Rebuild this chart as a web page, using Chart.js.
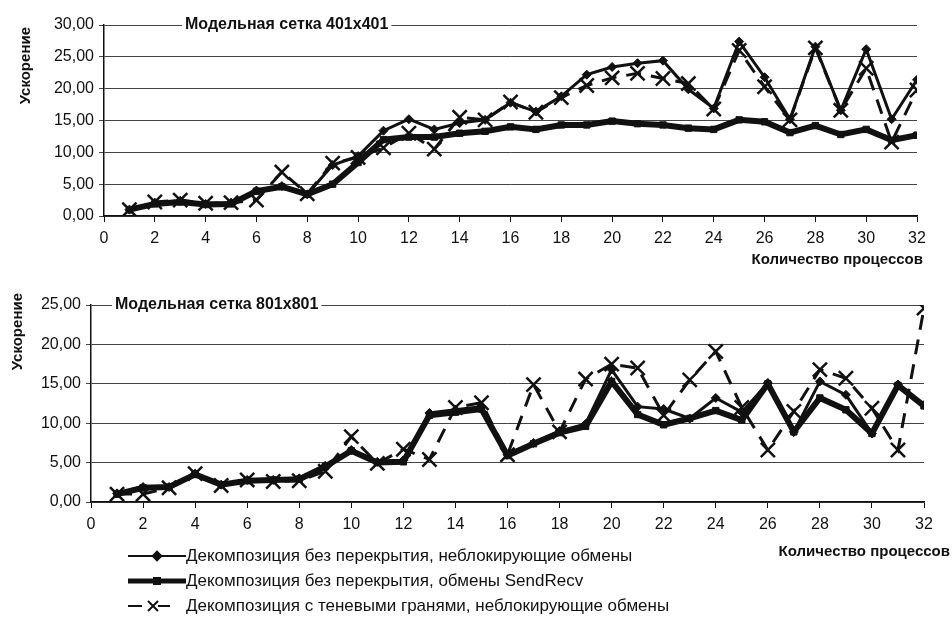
<!DOCTYPE html>
<html>
<head>
<meta charset="utf-8">
<script src="https://cdn.jsdelivr.net/npm/chart.js@4.4.0/dist/chart.umd.min.js"></script>
<style>
  body { margin: 0; background: #fff; width: 952px; height: 625px; position: relative; overflow: hidden;
         font-family: "Liberation Sans", Arial, sans-serif; color: #111; }
  #topBox { position: absolute; left: 0; top: 0; width: 952px; height: 280px; }
  #botBox { position: absolute; left: 0; top: 280px; width: 952px; height: 345px; }
  #legend { position: absolute; left: 128px; top: 543px; font-size: 17px; }
  .row { height: 25px; display: flex; align-items: center; }
  .row svg { width: 58px; height: 20px; }
</style>
</head>
<body>
<div id="topBox"><canvas id="top"></canvas></div>
<div id="botBox"><canvas id="bottom"></canvas></div>
<div id="legend"></div>
<script>
// Количество процессов
const processes = [1, 2, 3, 4, 5, 6, 7, 8, 9, 10, 11, 12, 13, 14, 15, 16,
                   17, 18, 19, 20, 21, 22, 23, 24, 25, 26, 27, 28, 29, 30, 31, 32];

const seriesNames = [
  'Декомпозиция без перекрытия, неблокирующие обмены',
  'Декомпозиция без перекрытия, обмены SendRecv',
  'Декомпозиция с теневыми гранями, неблокирующие обмены'
];

// Модельная сетка 401x401
const grid401NonBlock = [1.0, 2.1, 2.4, 1.9, 2.1, 4.0, 4.7, 3.4, 8.0, 9.4, 13.4, 15.2, 13.6, 14.6, 15.1, 17.8,
                         16.4, 18.8, 22.2, 23.4, 24.0, 24.4, 19.9, 16.9, 27.4, 21.8, 15.2, 26.6, 16.6, 26.2, 15.2, 21.4];
const grid401SendRecv = [1.0, 1.9, 2.2, 1.8, 1.9, 3.9, 4.6, 3.4, 5.0, 8.4, 12.0, 12.4, 12.4, 13.0, 13.3, 14.0,
                         13.6, 14.3, 14.3, 14.9, 14.5, 14.3, 13.8, 13.6, 15.1, 14.8, 13.1, 14.2, 12.8, 13.6, 11.9, 12.7];
const grid401Shadow   = [1.0, 2.2, 2.5, 2.0, 2.1, 2.5, 6.9, 3.5, 8.3, 9.2, 10.7, 13.0, 10.5, 15.5, 15.1, 17.9,
                         16.3, 18.6, 20.5, 21.7, 22.4, 21.6, 20.8, 16.8, 26.0, 20.3, 15.1, 26.4, 16.6, 23.2, 11.6, 19.8];

// Модельная сетка 801x801
const grid801NonBlock = [1.1, 1.9, 1.9, 3.6, 2.2, 2.8, 2.8, 3.0, 4.6, 6.6, 5.1, 5.3, 11.3, 11.7, 12.1, 6.0,
                         7.5, 9.0, 9.9, 16.8, 12.1, 11.8, 10.6, 13.2, 11.4, 15.1, 8.9, 15.3, 13.6, 8.7, 14.9, 12.3];
const grid801SendRecv = [1.0, 1.8, 1.9, 3.5, 2.2, 2.7, 2.8, 2.9, 4.5, 6.5, 5.0, 5.1, 11.0, 11.4, 11.8, 5.9,
                         7.4, 8.8, 9.6, 15.3, 11.1, 9.8, 10.6, 11.6, 10.4, 15.0, 8.9, 13.2, 11.7, 8.7, 14.8, 12.2];
const grid801Shadow   = [1.0, 1.0, 1.8, 3.6, 2.1, 2.8, 2.6, 2.7, 3.9, 8.3, 4.9, 6.7, 5.4, 12.0, 12.6, 6.0,
                         14.9, 8.9, 15.6, 17.5, 17.0, 11.0, 15.5, 19.1, 12.0, 6.6, 11.5, 16.8, 15.7, 11.9, 6.6, 24.6];

const ink = '#111';
const font = '"Liberation Sans", Arial, sans-serif';

function pts(vals) {
  return processes.map((p, i) => ({ x: p, y: vals[i] }));
}

function makeSets(a, b, c) {
  return [
    { label: seriesNames[0], data: pts(a), borderColor: ink, backgroundColor: ink, borderWidth: 3,
      pointStyle: 'rectRot', pointRadius: 4.5, pointBorderWidth: 1 },
    { label: seriesNames[1], data: pts(b), borderColor: ink, backgroundColor: ink, borderWidth: 6,
      pointStyle: 'rect', pointRadius: 4.5, pointBorderWidth: 1 },
    { label: seriesNames[2], data: pts(c), borderColor: ink, backgroundColor: ink, borderWidth: 3,
      borderDash: [15, 10], pointStyle: 'crossRot', pointRadius: 10, pointBorderWidth: 2.5 }
  ];
}

// extra texts: title on the top gridline, axis titles
const notes = {
  id: 'notes',
  afterDraw(chart, args, o) {
    const ctx = chart.ctx, a = chart.chartArea;
    ctx.save();
    ctx.textBaseline = 'middle';
    ctx.font = 'bold 16px ' + font;
    const w = ctx.measureText(o.title).width;
    ctx.fillStyle = '#fff';
    ctx.fillRect(a.left + o.titleShift - 3, a.top - 9, w + 6, 18);
    ctx.fillStyle = ink;
    ctx.textAlign = 'left';
    ctx.fillText(o.title, a.left + o.titleShift, a.top);

    ctx.font = 'bold 15px ' + font;
    ctx.textAlign = 'right';
    ctx.fillText(o.xTitle, a.right + o.xShift, a.bottom + o.xDrop);

    ctx.translate(o.yX, a.top + o.yTop);
    ctx.rotate(-Math.PI / 2);
    ctx.fillText(o.yTitle, 0, 0);
    ctx.restore();
  }
};

function makeChart(id, a, b, c, yMax, yWidth, pad, note) {
  return new Chart(document.getElementById(id), {
    type: 'line',
    data: { datasets: makeSets(a, b, c) },
    plugins: [notes],
    options: {
      responsive: true,
      maintainAspectRatio: false,
      animation: false,
      layout: { padding: pad },
      plugins: {
        legend: { display: false },
        tooltip: { enabled: false },
        notes: note
      },
      scales: {
        x: {
          type: 'linear', min: 0, max: 32,
          afterFit: s => { s.height = 40; },
          ticks: { stepSize: 2, autoSkip: false, maxRotation: 0, color: ink, padding: 7,
                   font: { size: 16, family: font } },
          grid: { drawOnChartArea: false, tickLength: 6, color: ink },
          border: { color: ink, width: 1.5 }
        },
        y: {
          min: 0, max: yMax,
          afterFit: s => { s.width = yWidth; },
          ticks: { stepSize: 5, color: ink, padding: 5,
                   font: { size: 16, family: font },
                   callback: v => v.toFixed(2).replace('.', ',') },
          grid: { color: '#444', lineWidth: 1, tickLength: 5 },
          border: { color: ink, width: 1.5 }
        }
      }
    }
  });
}

makeChart('top', grid401NonBlock, grid401SendRecv, grid401Shadow, 30, 104,
  { top: 25, right: 35, bottom: 24, left: 0 },
  { title: 'Модельная сетка 401x401', titleShift: 81, xTitle: 'Количество процессов',
    xShift: 6, xDrop: 44, yTitle: 'Ускорение', yX: 26, yTop: 2 });

makeChart('bottom', grid801NonBlock, grid801SendRecv, grid801Shadow, 25, 91,
  { top: 25, right: 28, bottom: 83, left: 0 },
  { title: 'Модельная сетка 801x801', titleShift: 24, xTitle: 'Количество процессов',
    xShift: 26, xDrop: 50, yTitle: 'Ускорение', yX: 18, yTop: -12 });

// legend
const samples = [
  '<line x1="0" y1="10" x2="58" y2="10" stroke="#111" stroke-width="2"/><rect x="25" y="6" width="8" height="8" fill="#111" transform="rotate(45 29 10)"/>',
  '<line x1="0" y1="10" x2="58" y2="10" stroke="#111" stroke-width="5"/><rect x="25" y="6" width="8" height="8" fill="#111"/>',
  '<line x1="0" y1="10" x2="14" y2="10" stroke="#111" stroke-width="2"/><line x1="30" y1="10" x2="42" y2="10" stroke="#111" stroke-width="2"/><path d="M20 5 L30 15 M30 5 L20 15" stroke="#111" stroke-width="2"/>'
];
document.getElementById('legend').innerHTML = seriesNames.map((n, i) =>
  '<div class="row"><svg viewBox="0 0 58 20">' + samples[i] + '</svg><span>' + n + '</span></div>').join('');
</script>
</body>
</html>
